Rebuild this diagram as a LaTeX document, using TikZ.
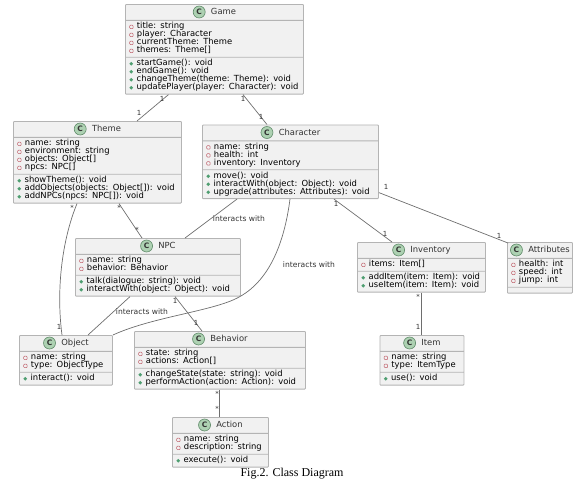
\documentclass[tikz,border=0pt]{standalone}
\usepackage{fontspec}
\setmainfont{DejaVu Sans}
\newfontfamily\capfont{Liberation Serif}
\usetikzlibrary{shapes.multipart}

\definecolor{boxfill}{HTML}{F1F1F1}
\definecolor{boxline}{HTML}{B4B4B4}
\definecolor{linkline}{HTML}{6E6E6E}
\definecolor{txtcol}{HTML}{333333}
\definecolor{privcol}{HTML}{C0606A}
\definecolor{pubcol}{HTML}{4E9E70}
\definecolor{markfill}{HTML}{ADD1B2}
\definecolor{markline}{HTML}{5E8A68}

% one row of a compartment
\newcommand{\rowstrut}{\rule[-2pt]{0pt}{8pt}}
\newcommand{\priv}[1]{\rowstrut\smash{\tikz[baseline=-0.2pt]\draw[privcol, line width=0.5pt] (0,0) rectangle (3.4pt,3.4pt);\hspace{3.6pt}#1}}
\newcommand{\pub}[1]{\rowstrut\smash{\tikz[baseline=-2pt]\fill[pubcol] (0,0) circle (1.8pt);\hspace{3.6pt}#1}}
% class title with its round mark
\newcommand{\ctitle}[1]{\rule[-3pt]{0pt}{11pt}\smash{\makebox[\linewidth][c]{\tikz[baseline=-2.9pt]\node[circle, anchor=center, draw=markline, fill=markfill, line width=0.6pt, minimum size=12pt, inner sep=0pt, text width=, font=\fontsize{7.5}{8}\selectfont\bfseries, text=black!80] (cmark) {C};\hspace{5.5pt}#1}}}

\begin{document}
\begin{tikzpicture}[x=1pt, y=-1pt,
    classbox/.style={rectangle split, rectangle split parts=3, draw=boxline, fill=boxfill,
      line width=0.9pt, rounded corners=0.8pt, anchor=north west, align=left,
      inner xsep=4pt, inner ysep=2pt, text=txtcol, font=\fontsize{8.4}{8}\selectfont},
    link/.style={draw=linkline, line width=0.7pt},
    mult/.style={font=\fontsize{7}{8}\selectfont, text=txtcol, inner sep=0pt},
    linktext/.style={font=\fontsize{7.6}{8}\selectfont, text=txtcol, inner sep=0pt}]
  \useasboundingbox (0,0) rectangle (586,488);

  % Classes
  \node[classbox, text width=170pt] (game) at (125,4) {\ctitle{Game}
    \nodepart{two}\priv{title: string}\\\priv{player: Character}\\\priv{currentTheme: Theme}\\\priv{themes: Theme[]}
    \nodepart{three}\pub{startGame(): void}\\\pub{endGame(): void}\\\pub{changeTheme(theme: Theme): void}\\\pub{updatePlayer(player: Character): void}};
  \node[classbox, text width=160pt] (theme) at (13,121) {\ctitle{Theme}
    \nodepart{two}\priv{name: string}\\\priv{environment: string}\\\priv{objects: Object[]}\\\priv{npcs: NPC[]}
    \nodepart{three}\pub{showTheme(): void}\\\pub{addObjects(objects: Object[]): void}\\\pub{addNPCs(npcs: NPC[]): void}};
  \node[classbox, text width=168pt] (character) at (202,124.5) {\ctitle{Character}
    \nodepart{two}\priv{name: string}\\\priv{health: int}\\\priv{inventory: Inventory}
    \nodepart{three}\pub{move(): void}\\\pub{interactWith(object: Object): void}\\\pub{upgrade(attributes: Attributes): void}};
  \node[classbox, text width=157pt] (npc) at (75,238) {\ctitle{NPC}
    \nodepart{two}\priv{name: string}\\\priv{behavior: Behavior}
    \nodepart{three}\pub{talk(dialogue: string): void}\\\pub{interactWith(object: Object): void}};
  \node[classbox, text width=120pt] (inventory) at (357,242) {\ctitle{Inventory}
    \nodepart{two}\priv{items: Item[]}
    \nodepart{three}\pub{addItem(item: Item): void}\\\pub{useItem(item: Item): void}};
  \node[classbox, text width=57pt] (attributes) at (507,242) {\ctitle{Attributes}
    \nodepart{two}\priv{health: int}\\\priv{speed: int}\\\priv{jump: int}
    \nodepart{three}\rule{0pt}{1pt}};
  \node[classbox, text width=85pt] (object) at (19,335) {\ctitle{Object}
    \nodepart{two}\priv{name: string}\\\priv{type: ObjectType}
    \nodepart{three}\pub{interact(): void}};
  \node[classbox, text width=163pt] (behavior) at (134,331) {\ctitle{Behavior}
    \nodepart{two}\priv{state: string}\\\priv{actions: Action[]}
    \nodepart{three}\pub{changeState(state: string): void}\\\pub{performAction(action: Action): void}};
  \node[classbox, text width=88pt] (action) at (172,417) {\ctitle{Action}
    \nodepart{two}\priv{name: string}\\\priv{description: string}
    \nodepart{three}\pub{execute(): void}};
  \node[classbox, text width=76pt] (item) at (379.5,335) {\ctitle{Item}
    \nodepart{two}\priv{name: string}\\\priv{type: ItemType}
    \nodepart{three}\pub{use(): void}};

  % Straight links
  \draw[link] ([xshift=43.5pt]game.south west) -- ([xshift=124pt]theme.north west);
  \draw[link] ([xshift=118pt]game.south west) -- ([xshift=65pt]character.north west);
  \draw[link] ([xshift=106pt]theme.south west) -- ([xshift=67pt]npc.north west);
  \draw[link] ([xshift=35pt]character.south west) -- ([xshift=110pt]npc.north west);
  \draw[link] ([xshift=132pt]character.south west) -- ([xshift=35pt]inventory.north west);
  \draw[link] ([yshift=6.5pt]character.south east) -- ([xshift=1pt,yshift=-1pt]attributes.north west);
  \draw[link] ([xshift=55pt]npc.south west) -- ([xshift=69pt]object.north west);
  \draw[link] ([xshift=100pt]npc.south west) -- ([xshift=68pt]behavior.north west);
  \draw[link] ([xshift=85pt]behavior.south west) -- ([xshift=47pt]action.north west);
  \draw[link] ([xshift=64pt]inventory.south west) -- ([xshift=41.5pt]item.north west);

  % Curved links
  \draw[link] ([xshift=64pt]theme.south west) .. controls (62,240) and (56,290) .. ([xshift=43pt]object.north west);
  \draw[link] ([xshift=88pt]character.south west) .. controls (284,245) and (268,285) .. (233,300)
    .. controls (205,312) and (150,318) .. ([xshift=0pt]object.north east);

  % Multiplicities
  \node[mult] (m1) at (162,99) {1};
  \node[mult] (m2) at (139,113) {1};
  \node[mult] (m3) at (243,99) {1};
  \node[mult] (m4) at (261,117) {1};
  \node[mult] (m5) at (72,208) {*};
  \node[mult] (m6) at (59,327) {1};
  \node[mult] (m7) at (119,208) {*};
  \node[mult] (m8) at (137,230) {*};
  \node[mult] (m9) at (175,301) {1};
  \node[mult] (m10) at (196,323) {1};
  \node[mult] (m11) at (217,394) {*};
  \node[mult] (m12) at (217,409) {*};
  \node[mult] (m13) at (336,204) {1};
  \node[mult] (m14) at (385,234) {1};
  \node[mult] (m15) at (386,187) {1};
  \node[mult] (m16) at (499,236) {1};
  \node[mult] (m17) at (418,297) {*};
  \node[mult] (m18) at (418,327) {1};

  % Link texts
  \node[linktext] (t1) at (239,219) {interacts with};
  \node[linktext] (t2) at (309,265) {interacts with};
  \node[linktext] (t3) at (142,312) {interacts with};

  % Caption
  \node[font=\capfont\fontsize{12}{14}\selectfont, inner sep=0pt] (caption) at (292,474) {Fig.2. Class Diagram};
\end{tikzpicture}
\end{document}
